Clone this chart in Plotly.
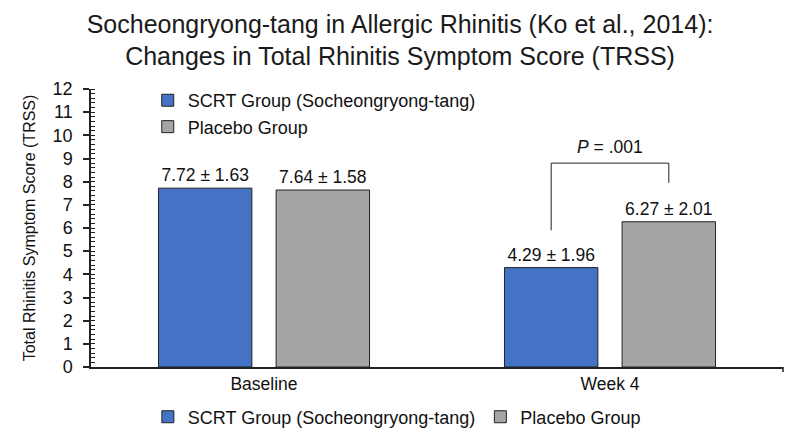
import plotly.graph_objects as go

categories = ["Baseline", "Week 4"]
scrt_mean = [7.72, 4.29]
scrt_sd = [1.63, 1.96]
placebo_mean = [7.64, 6.27]
placebo_sd = [1.58, 2.01]
series_names = ["SCRT Group (Socheongryong-tang)", "Placebo Group"]
colors = ["#4472C4", "#A5A5A5"]
p_text = "<i>P</i> = .001"
bracket_y = [5.9, 8.8, 8.8, 7.95]

FONT = "Liberation Sans, Arial, sans-serif"
BAR_W = 0.27
OFFSETS = [-0.305, 0.035]

fig = go.Figure()
for name, means, sds, col, off in [(series_names[0], scrt_mean, scrt_sd, colors[0], OFFSETS[0]),
                                   (series_names[1], placebo_mean, placebo_sd, colors[1], OFFSETS[1])]:
    fig.add_trace(go.Bar(
        x=categories, y=means, name=name, width=BAR_W, offset=off,
        marker=dict(color=col, line=dict(color="#222222", width=1)),
        text=[f"{m:.2f} ± {s:.2f}" for m, s in zip(means, sds)],
        textposition="outside", cliponaxis=False, constraintext="none",
        textfont=dict(size=17.5, color="#111111", family=FONT),
        legend="legend",
    ))
# bottom legend entries
for name, col in zip(series_names, colors):
    fig.add_trace(go.Bar(
        x=[None], y=[None], name=name,
        marker=dict(color=col, line=dict(color="#222222", width=1)),
        legend="legend2", hoverinfo="skip",
    ))

# significance bracket over Week 4 bars (at bar centres)
cl = 1 + OFFSETS[0] + BAR_W / 2
cr = 1 + OFFSETS[1] + BAR_W / 2
line = dict(color="#222222", width=1)
fig.update_layout(
    shapes=[
        dict(type="line", xref="x", yref="y", x0=cl, x1=cl, y0=bracket_y[0], y1=bracket_y[1], line=line),
        dict(type="line", xref="x", yref="y", x0=cl, x1=cr, y0=bracket_y[1], y1=bracket_y[2], line=line),
        dict(type="line", xref="x", yref="y", x0=cr, x1=cr, y0=bracket_y[2], y1=bracket_y[3], line=line),
        dict(type="line", xref="paper", yref="paper", x0=1, x1=1, y0=0, y1=-0.018,
             line=dict(color="#222222", width=1.5)),
    ],
    annotations=[
        dict(x=(cl + cr) / 2, y=bracket_y[1], xref="x", yref="y", text=p_text, showarrow=False,
             yshift=16, font=dict(size=17.5, color="#111111", family=FONT)),
    ],
)

fig.update_layout(
    width=792, height=428,
    paper_bgcolor="white", plot_bgcolor="white",
    margin=dict(l=83, r=17, t=81, b=69, autoexpand=False),
    font=dict(family=FONT, color="#111111"),
    barmode="overlay",
    title=dict(
        text="Socheongryong-tang in Allergic Rhinitis (Ko et al., 2014):<br>Changes in Total Rhinitis Symptom Score (TRSS)",
        x=0.495, xanchor="center", y=0.942, yanchor="top",
        font=dict(size=25, color="#1a1a1a", family=FONT),
    ),
    xaxis=dict(
        type="category", range=[-0.5, 1.5], showline=True, linecolor="#222222", linewidth=1.5,
        ticks="", tickfont=dict(size=17.5, color="#111111"), showgrid=False, zeroline=False,
        automargin=False,
    ),
    yaxis=dict(
        range=[0, 12], dtick=1, showline=True, linecolor="#222222", linewidth=1.5,
        ticks="outside", ticklen=6, tickwidth=1.5, tickcolor="#222222", ticklabelstandoff=7,
        minor=dict(dtick=0.2, ticks="inside", ticklen=4, tickwidth=1, tickcolor="#222222"),
        tickfont=dict(size=18, color="#111111"), showgrid=False, zeroline=False, automargin=False,
        title=dict(text="Total Rhinitis Symptom Score (TRSS)", font=dict(size=16, color="#111111"), standoff=13),
    ),
    yaxis2=dict(
        range=[0, 12], dtick=1, overlaying="y", side="left", anchor="x",
        ticks="inside", ticklen=7, tickwidth=1.5, tickcolor="#222222",
        showticklabels=False, showgrid=False, zeroline=False, showline=False, automargin=False,
    ),
    legend=dict(
        x=0.082, y=1.025, xanchor="left", yanchor="top", bgcolor="rgba(0,0,0,0)",
        font=dict(size=18, color="#111111"), tracegroupgap=0, itemwidth=30,
    ),
    legend2=dict(
        orientation="h", x=0.442, y=-0.18, xanchor="center", yanchor="middle",
        bgcolor="rgba(0,0,0,0)", font=dict(size=18, color="#111111"), itemwidth=30,
    ),
)
fig.write_html("out.html")
